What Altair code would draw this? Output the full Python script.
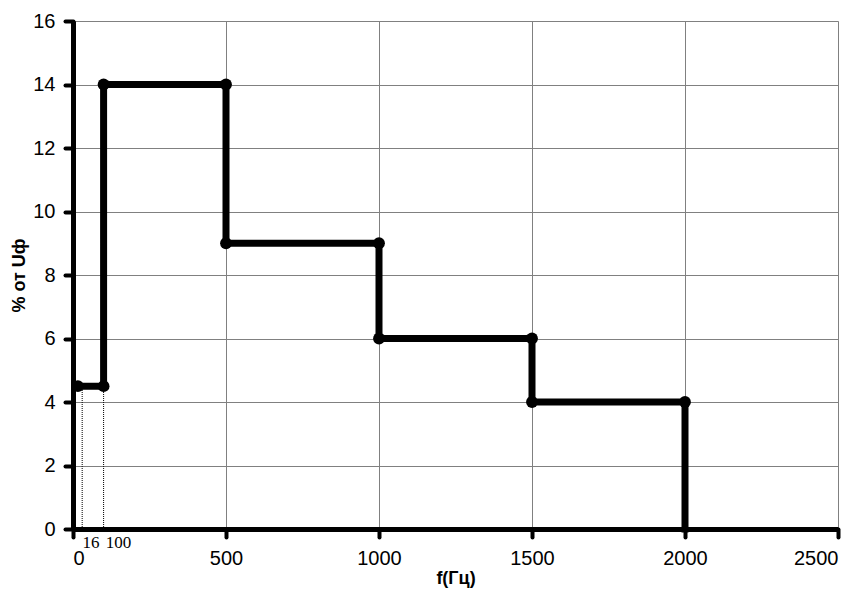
import altair as alt
import pandas as pd

# step line (frequency Hz, % of Uph)
step_x = [16, 100, 100, 500, 500, 1000, 1000, 1500, 1500, 2000, 2000]
step_y = [4.5, 4.5, 14, 14, 9, 9, 6, 6, 4, 4, 0]
# markers
marker_x = [16, 100, 100, 500, 500, 1000, 1000, 1500, 1500, 2000]
marker_y = [4.5, 4.5, 14, 14, 9, 9, 6, 6, 4, 4]
# thin guide lines
guide_x = [30, 100]
guide_top = [4.5, 4.5]
# annotation labels
ann_text = ["16", "100"]
ann_x = [59, 149]
ann_y = [-0.45, -0.45]

x_ticks = [0, 500, 1000, 1500, 2000, 2500]
y_ticks = [0, 2, 4, 6, 8, 10, 12, 14, 16]

steps = pd.DataFrame({"x": step_x, "y": step_y, "o": list(range(len(step_x)))})
markers = pd.DataFrame({"x": marker_x, "y": marker_y})
guides = pd.DataFrame({"x": guide_x, "y": [0] * len(guide_x), "y2": guide_top})
ann = pd.DataFrame({"t": ann_text, "x": ann_x, "y": ann_y})

xs = alt.Scale(domain=[0, 2500], nice=False, zero=False)
ys = alt.Scale(domain=[0, 16], nice=False, zero=False)

common = dict(grid=True, gridColor="#808080", gridWidth=1, domainColor="black",
              domainWidth=5, tickColor="black", tickWidth=4, tickSize=8, tickCap="round",
              labelFont="Liberation Sans", labelFontSize=20, labelColor="black",
              titleFont="Liberation Sans", titleFontSize=18, titleFontWeight="bold",
              titleColor="black", format="d")

xaxis = alt.Axis(values=x_ticks, title="f(Гц)", labelPadding=11, titlePadding=1, **common)
yaxis = alt.Axis(values=y_ticks, title="% от Uф", labelPadding=10, titlePadding=4, **common)

base_axes = alt.Chart(markers).mark_point(opacity=0).encode(
    x=alt.X("x:Q", scale=xs, axis=xaxis),
    y=alt.Y("y:Q", scale=ys, axis=yaxis),
)

guide_layer = alt.Chart(guides).mark_rule(color="black", strokeWidth=1, strokeDash=[1, 1]).encode(
    x=alt.X("x:Q", scale=xs), y=alt.Y("y:Q", scale=ys), y2="y2:Q")

line_layer = alt.Chart(steps).mark_line(color="black", strokeWidth=7, strokeCap="square").encode(
    x=alt.X("x:Q", scale=xs), y=alt.Y("y:Q", scale=ys), order="o:Q")

pt_layer = alt.Chart(markers).mark_circle(color="black", size=140, opacity=1).encode(
    x=alt.X("x:Q", scale=xs), y=alt.Y("y:Q", scale=ys))

ann_layer = alt.Chart(ann).mark_text(font="Liberation Serif", fontSize=17, color="black",
                                     align="center", baseline="middle").encode(
    x=alt.X("x:Q", scale=xs), y=alt.Y("y:Q", scale=ys), text="t:N")

chart = alt.layer(base_axes, guide_layer, line_layer, pt_layer, ann_layer).properties(
    width=765, height=508,
    autosize=alt.AutoSizeParams(type="none"),
    padding={"left": 65, "top": 13, "right": 20, "bottom": 60},
).configure_view(stroke=None).configure(background="white")

chart.save("out.html", embed_options={"renderer": "svg", "actions": False})
